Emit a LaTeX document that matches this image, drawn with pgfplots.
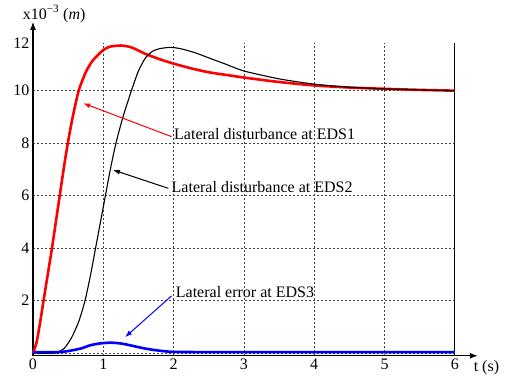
\documentclass[border=0pt]{standalone}
\usepackage{fontspec}
\setmainfont{Liberation Serif}
\usepackage{pgfplots}
\pgfplotsset{compat=1.18}
\usetikzlibrary{arrows.meta}

\begin{document}
\begin{tikzpicture}
\begin{axis}[
  at={(0,0)}, anchor=south west,
  scale only axis, width=421.8pt, height=312.9pt,
  xmin=0, xmax=6, ymin=-0.1, ymax=11.82,
  axis x line=bottom, axis y line=left,
  x axis line style={line width=1.2pt, -{Latex[length=8pt,width=6pt]}, shorten >=-23pt},
  y axis line style={line width=1.2pt, -{Latex[length=8pt,width=6pt]}, shorten >=-21pt},
  xtick={0,1,2,3,4,5,6},
  ytick={0,2,4,6,8,10},
  yticklabels={,2,4,6,8,10},
  extra y ticks={11.82},
  extra y tick labels={12},
  extra y tick style={grid=none},
  major tick length=0pt,
  grid=major,
  major grid style={dash pattern=on 2pt off 2pt, black!75, line width=0.7pt},
  tick label style={font=\fontsize{16}{18}\selectfont},
  /pgf/number format/assume math mode=true,
  clip=false,
]
% right border
\draw[line width=0.8pt] (axis cs:6,-0.1) -- (axis cs:6,11.82);

% EDS1 (red)
\addplot[red, line width=2.6pt, smooth, tension=0.4] coordinates {
(0,0) (0.05,0.4) (0.1,1.15) (0.15,2.0) (0.21,3.0) (0.27,4.0) (0.325,5.0) (0.38,6.0)
(0.435,7.0) (0.495,8.0) (0.565,9.0) (0.65,10.0) (0.75,10.7) (0.85,11.15) (1.0,11.55)
(1.1,11.68) (1.25,11.72) (1.4,11.65) (1.6,11.4) (1.8,11.2) (2.0,11.03) (2.25,10.85)
(2.5,10.7) (2.75,10.6) (3.0,10.5) (3.5,10.33) (4.0,10.2) (4.5,10.12) (5.0,10.07)
(5.5,10.03) (6.0,10.0)
};

% EDS2 (black)
\addplot[black, line width=1.1pt, smooth, tension=0.4] coordinates {
(0,0) (0.3,0) (0.35,0.03) (0.45,0.2) (0.55,0.6) (0.65,1.2) (0.74,2.0) (0.82,3.0)
(0.89,4.0) (0.96,5.0) (1.03,6.0) (1.1,7.0) (1.18,8.0) (1.28,9.0) (1.4,10.0)
(1.5,10.75) (1.6,11.25) (1.7,11.5) (1.8,11.6) (1.95,11.65) (2.1,11.6) (2.3,11.45)
(2.5,11.25) (2.75,11.0) (3.0,10.75) (3.5,10.45) (4.0,10.25) (4.5,10.13) (5.0,10.07)
(5.5,10.03) (6.0,10.0)
};

% EDS3 (blue)
\addplot[blue, line width=2.6pt, smooth, tension=0.4] coordinates {
(0,0.04) (0.35,0.04) (0.5,0.08) (0.6,0.13) (0.71,0.2) (0.81,0.3) (0.95,0.37)
(1.1,0.4) (1.25,0.37) (1.4,0.29) (1.55,0.2) (1.7,0.13) (1.85,0.08) (2.0,0.05)
(2.5,0.04) (3.0,0.04) (4.0,0.04) (5.0,0.04) (6.0,0.04)
};

% annotations
\draw[red, line width=1pt, -{Latex[length=7pt,width=5pt]}] (axis cs:1.97,8.25) -- (axis cs:0.716,9.52);
\draw[black, line width=1pt, -{Latex[length=7pt,width=5pt]}] (axis cs:1.925,6.28) -- (axis cs:1.138,6.98);
\draw[blue, line width=1pt, -{Latex[length=7pt,width=5pt]}] (axis cs:1.97,2.18) -- (axis cs:1.31,0.61);

\node[anchor=west, inner sep=0pt, font=\fontsize{16}{18}\selectfont] at (axis cs:2.006,8.33) {Lateral disturbance at EDS1};
\node[anchor=west, inner sep=0pt, font=\fontsize{16}{18}\selectfont] at (axis cs:1.97,6.33) {Lateral disturbance at EDS2};
\node[anchor=west, inner sep=0pt, font=\fontsize{16}{18}\selectfont] at (axis cs:2.03,2.33) {Lateral error at EDS3};

\node[font=\fontsize{16}{18}\selectfont] at (axis cs:0.3,12.92) {x10\textsuperscript{−3} (\textit{m})};
\node[font=\fontsize{16}{18}\selectfont] at (axis cs:6.45,-0.56) {t (s)};
\end{axis}
\pgfresetboundingbox
\path[use as bounding box] (-33pt,-24.2pt) rectangle (472pt,355.8pt);
\end{tikzpicture}
\end{document}
